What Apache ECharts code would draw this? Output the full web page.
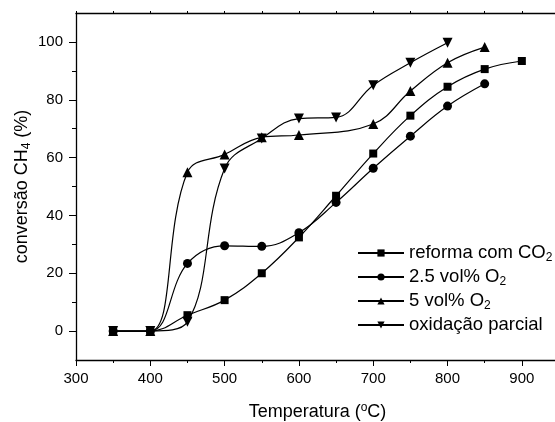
<!DOCTYPE html>
<html lang="pt">
<head>
    <meta charset="UTF-8">
    <title>conversão CH4</title>
    <script src="https://cdn.jsdelivr.net/npm/echarts@6/dist/echarts.min.js"></script>
    <style>
        html, body { margin: 0; padding: 0; background: #fff; }
    </style>
</head>
<body>
<div id="main" style="width: 555px;height:422px;"></div>
<script>
    // dados
    var temps = [350, 400, 450, 500, 550, 600, 650, 700, 750, 800, 850, 900];
    var reforma = [0, 0, 5.5, 10.7, 20.0, 32.4, 46.8, 61.4, 74.5, 84.5, 90.6, 93.4];
    var o2_25 = [0, 0, 23.4, 29.5, 29.3, 34.0, 44.5, 56.3, 67.4, 77.8, 85.5, null];
    var o2_5 = [0, 0, 54.9, 61.1, 67.0, 67.8, null, 71.6, 83.0, 92.8, 98.2, null];
    var oxid = [0, 0, 3.2, 56.2, 66.6, 73.5, 73.9, 85.0, 92.8, 99.7, null, null];

    var seriesNames = ['reforma com CO2', '2.5 vol% O2', '5 vol% O2', 'oxidação parcial'];
    var xLabels = [300, 400, 500, 600, 700, 800, 900];
    var xMinor = [350, 450, 550, 650, 750, 850];
    var yLabels = [0, 20, 40, 60, 80, 100];
    var yMinor = [10, 30, 50, 70, 90];

    var font = 'Liberation Sans';

    function pares(vals) {
        var out = [];
        for (var i = 0; i < temps.length; i++) {
            if (vals[i] != null) out.push([temps[i], vals[i]]);
        }
        return out;
    }

    function serie(name, vals, symbol, size, rot) {
        return {
            name: name,
            type: 'line',
            data: pares(vals),
            smooth: 0.4,
            symbol: symbol,
            symbolSize: size,
            symbolRotate: rot || 0,
            showAllSymbol: true,
            lineStyle: {color: '#000', width: 1.2},
            itemStyle: {color: '#000'},
            emphasis: {disabled: true},
            animation: false
        };
    }

    var linhaEixo = {show: true, onZero: false, lineStyle: {color: '#000', width: 1.3}};
    var semLinha = {show: false, onZero: false};
    // estilo do subscrito
    var sub = {fontSize: 12, fontFamily: font, color: '#000', verticalAlign: 'bottom', lineHeight: 8};

    var myChart = echarts.init(document.getElementById('main'));
    myChart.setOption({
        backgroundColor: '#fff',
        animation: false,
        grid: {left: 76, right: -4, top: 13, bottom: 62, outerBoundsMode: 'none'},
        legend: {
            data: seriesNames,
            orient: 'vertical',
            left: 352,
            top: 237,
            itemWidth: 46,
            itemHeight: 9,
            itemGap: 2,
            textStyle: {
                color: '#000', fontSize: 18.5, fontFamily: font, lineHeight: 22,
                rich: {sub: sub}
            },
            formatter: function (n) {
                return n.replace(/O2$/, 'O{sub|2}');
            }
        },
        xAxis: [
            {
                type: 'value', min: 300, max: 950, position: 'bottom',
                splitLine: {show: false},
                axisLine: linhaEixo,
                axisTick: {show: true, length: 6, lineStyle: {color: '#000'}, customValues: xLabels},
                axisLabel: {color: '#000', fontSize: 15, fontFamily: font, margin: 11, customValues: xLabels},
                name: 'Temperatura ({sup|o}C)',
                nameLocation: 'middle',
                nameGap: 42,
                nameMoveOverlap: false,
                nameTextStyle: {
                    color: '#000', fontSize: 18, fontFamily: font, lineHeight: 20,
                    rich: {sup: {fontSize: 12, fontFamily: font, color: '#000', verticalAlign: 'top', lineHeight: 12}}
                }
            },
            {
                type: 'value', min: 300, max: 950, position: 'bottom',
                splitLine: {show: false},
                axisLine: semLinha,
                axisLabel: {show: false},
                axisTick: {show: true, length: 3, lineStyle: {color: '#000'}, customValues: xMinor}
            },
            {
                type: 'value', min: 300, max: 950, position: 'top',
                splitLine: {show: false},
                axisLine: linhaEixo,
                axisLabel: {show: false},
                axisTick: {show: true, length: 2, lineStyle: {color: '#000'}, customValues: xLabels.concat(xMinor)}
            }
        ],
        yAxis: [
            {
                type: 'value', min: -10, max: 110, position: 'left',
                splitLine: {show: false},
                axisLine: linhaEixo,
                axisTick: {show: true, length: 7, lineStyle: {color: '#000'}, customValues: yLabels},
                axisLabel: {color: '#000', fontSize: 15, fontFamily: font, margin: 13, customValues: yLabels},
                name: 'conversão CH{sub|4} (%)',
                nameLocation: 'middle',
                nameRotate: 90,
                nameGap: 43,
                nameMoveOverlap: false,
                nameTextStyle: {
                    color: '#000', fontSize: 18, fontFamily: font, lineHeight: 22,
                    rich: {sub: sub}
                }
            },
            {
                type: 'value', min: -10, max: 110, position: 'left',
                splitLine: {show: false},
                axisLine: semLinha,
                axisLabel: {show: false},
                axisTick: {show: true, length: 4, lineStyle: {color: '#000'}, customValues: yMinor}
            }
        ],
        series: [
            serie(seriesNames[0], reforma, 'rect', 8),
            serie(seriesNames[1], o2_25, 'circle', 9),
            serie(seriesNames[2], o2_5, 'triangle', 10),
            serie(seriesNames[3], oxid, 'triangle', 10, 180)
        ]
    });
</script>
</body>
</html>
